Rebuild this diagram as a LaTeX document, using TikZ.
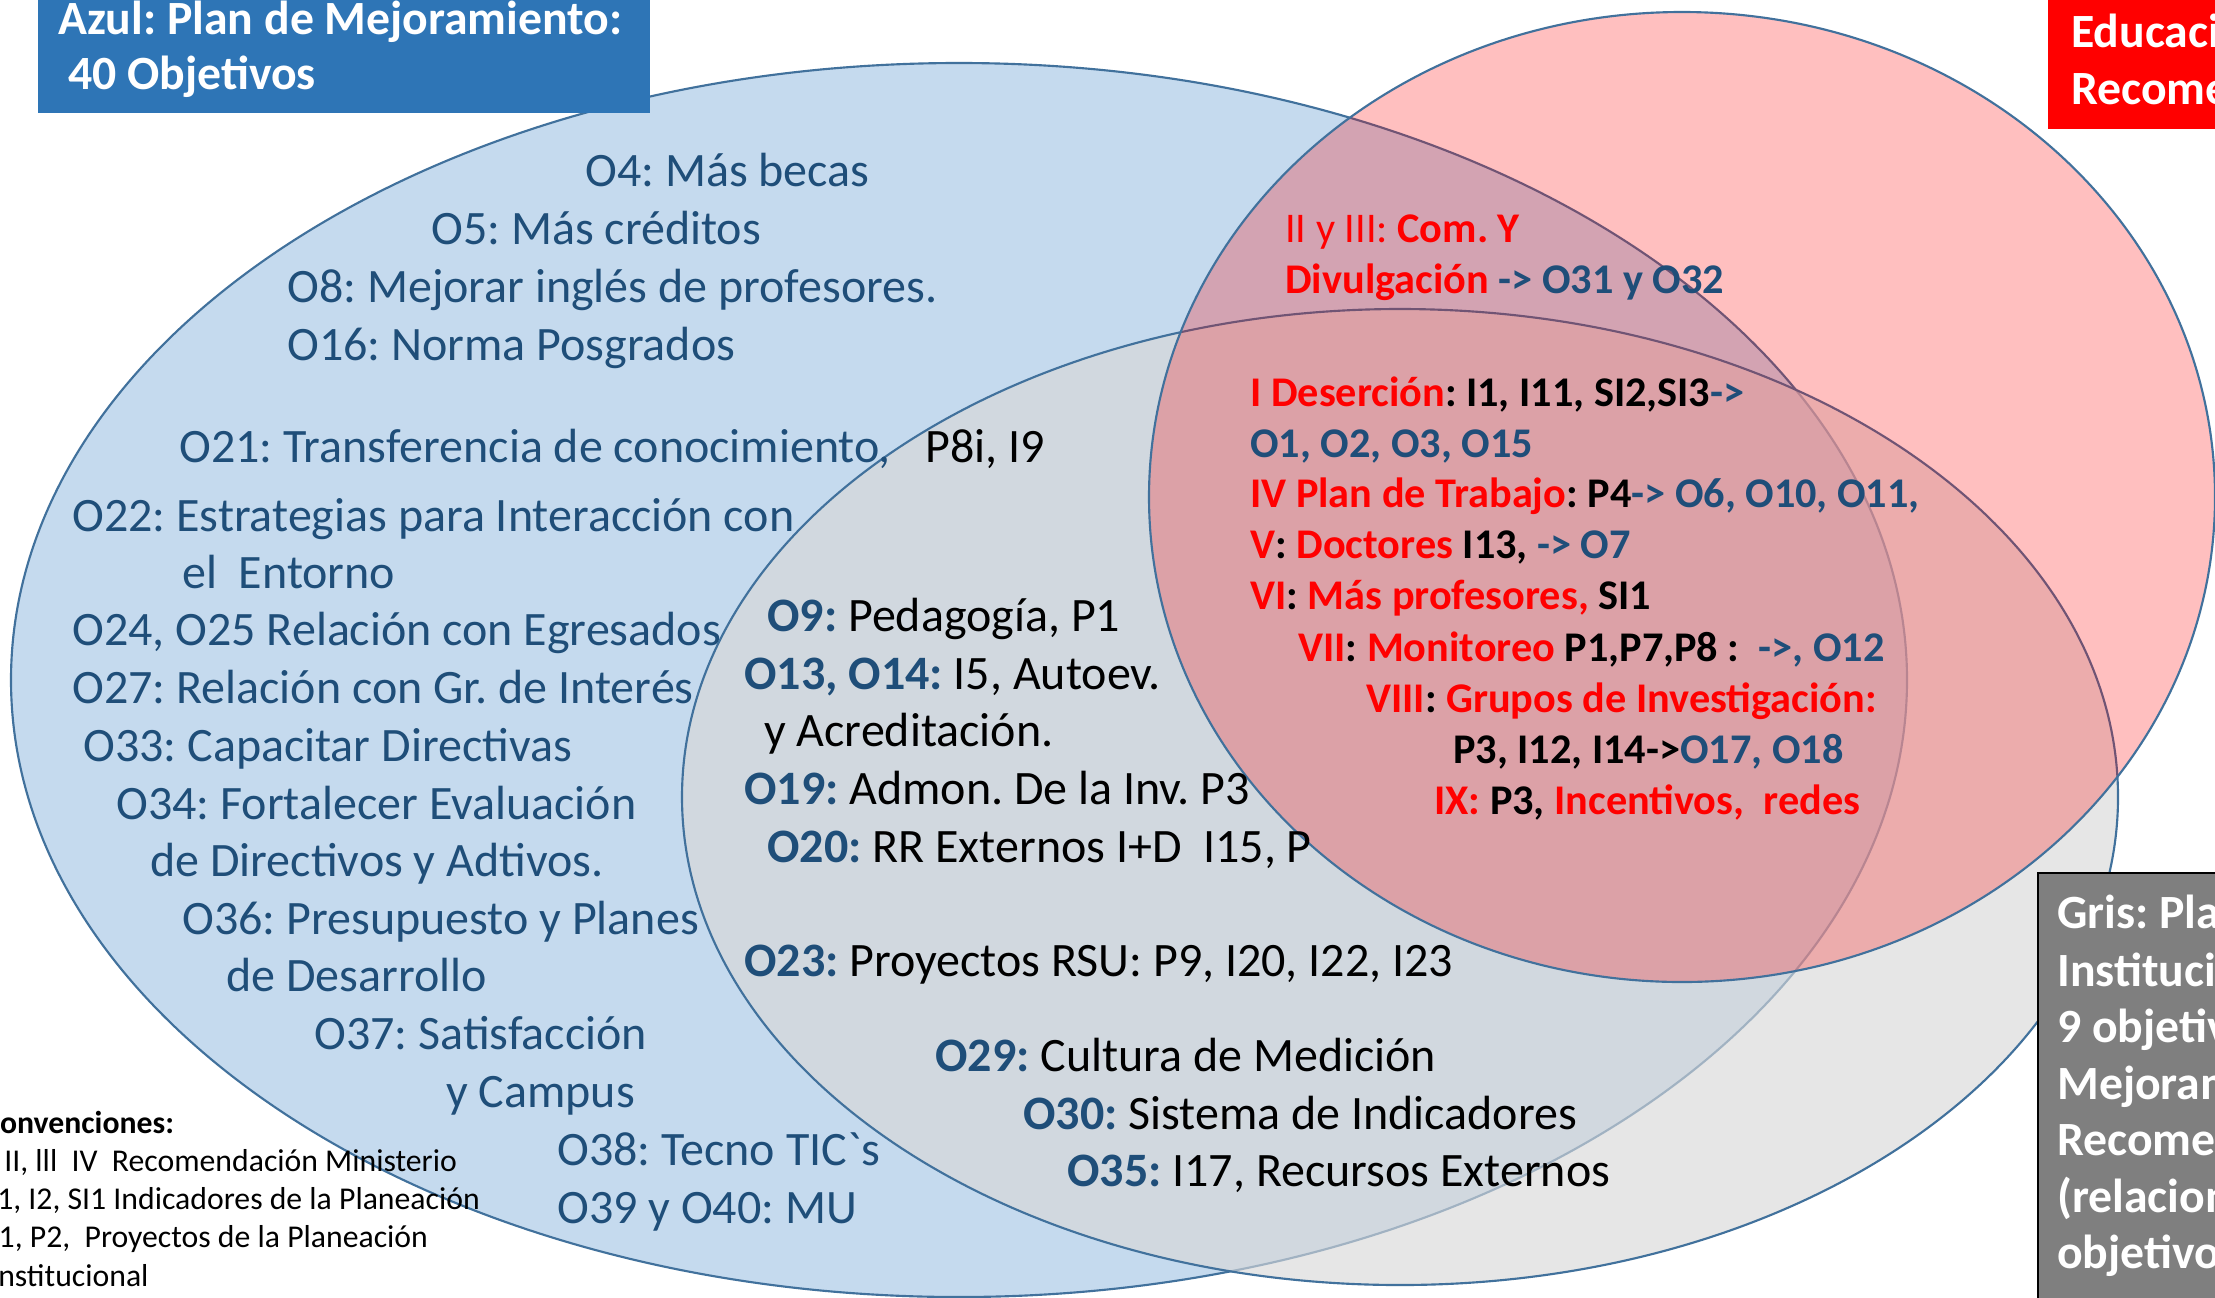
\documentclass[tikz,border=0pt]{standalone}
\usepackage{fontspec}
\setmainfont{Carlito}
\newfontfamily\rawcar{Carlito}[Ligatures=TeXOff]
\definecolor{blueFill}{RGB}{197,218,238}
\definecolor{edgeBlue}{RGB}{65,113,156}
\definecolor{grayFill}{RGB}{216,216,216}
\definecolor{tblue}{RGB}{31,78,121}
\definecolor{boxBlue}{RGB}{46,117,182}
\definecolor{boxRed}{RGB}{255,0,0}
\definecolor{boxGray}{RGB}{127,127,127}
\newcommand{\fsA}{\fontsize{36}{43}\selectfont}
\newcommand{\fsB}{\fontsize{31.7}{38}\selectfont\bfseries}
\newcommand{\fsC}{\fontsize{23.8}{29}\selectfont}
\newcommand{\cR}[1]{\textcolor{red}{#1}}
\newcommand{\cK}[1]{\textcolor{black}{#1}}
\newcommand{\cB}[1]{\textcolor{tblue}{#1}}
\frenchspacing
\tikzset{
  vedge/.style={draw=edgeBlue, line width=1.6pt},
  btxt/.style={anchor=base west, inner sep=0pt, font=\fsA, text=tblue},
  gtxt/.style={anchor=base west, inner sep=0pt, font=\fsA, text=black},
  ptxt/.style={anchor=base west, inner sep=0pt, font=\fsB, text=red},
  ctxt/.style={anchor=base west, inner sep=0pt, font=\fsC, text=black},
  wtxt/.style={anchor=base west, inner sep=0pt, font=\fontsize{35.8}{43}\selectfont\bfseries, text=white}
}
\begin{document}
\frenchspacing
\begin{tikzpicture}[x=0.75pt,y=-0.75pt]
\useasboundingbox (0,0) rectangle (2215,1297);
\clip (0,0) rectangle (2215,1297);
\fill[white] (0,0) rectangle (2215,1297);
% Venn ellipses
\path[vedge, fill=blueFill] (959,680) ellipse [x radius=948, y radius=617];
\path[vedge, fill=grayFill, fill opacity=0.64] (1400,797) ellipse [x radius=718, y radius=488];
\path[vedge, fill=red, fill opacity=0.25] (1682,497) ellipse [x radius=533, y radius=485];
% title boxes
\fill[boxBlue] (38,0) rectangle (650,113);
\node[wtxt] (az1) at (58,34) {Azul: Plan de Mejoramiento:};
\node[wtxt] (az2) at (68,89) {40 Objetivos};
\fill[boxRed] (2048,0) rectangle (2215,129);
\node[wtxt] (ed1) at (2071,47) {Educación};
\node[wtxt] (ed2) at (2071,104) {Recomendaciones};
\path[fill=boxGray, draw=black, line width=1.5pt] (2038,873) rectangle (2240,1320);
\node[wtxt] (gr1) at (2057,928) {Gris: Plan};
\node[wtxt] (gr2) at (2057,986) {Institucional};
\node[wtxt] (gr3) at (2057,1042) {9 objetivos};
\node[wtxt] (gr4) at (2057,1099) {Mejoramiento};
\node[wtxt] (gr5) at (2057,1155) {Recomendaciones};
\node[wtxt] (gr6) at (2057,1212) {(relacionados};
\node[wtxt] (gr7) at (2057,1268) {objetivos};
% blue region texts
\node[btxt] (o4) at (585,186) {O4: Más becas};
\node[btxt] (o5) at (431,244) {O5: Más créditos};
\node[btxt] (o8) at (287,302) {O8: Mejorar inglés de profesores.};
\node[btxt] (o16) at (287,360) {O16: Norma Posgrados};
\node[btxt] (o21) at (179,462) {O21: Transferencia de conocimiento,};
\node[gtxt] (p8i) at (925,462) {P8i, I9};
\node[btxt] (o22) at (72,531) {O22: Estrategias para Interacción con};
\node[btxt] (o22b) at (182,588) {el\ \ Entorno};
\node[btxt] (o24) at (72,645) {O24, O25 Relación con Egresados};
\node[btxt] (o27) at (72,703) {O27: Relación con Gr. de Interés};
\node[btxt] (o33) at (83,761) {O33: Capacitar Directivas};
\node[btxt] (o34) at (116,819) {O34: Fortalecer Evaluación};
\node[btxt] (o34b) at (150,876) {de Directivos y Adtivos.};
\node[btxt] (o36) at (182,934) {O36: Presupuesto y Planes};
\node[btxt] (o36b) at (226,991) {de Desarrollo};
\node[btxt] (o37) at (314,1049) {O37: Satisfacción};
\node[btxt] (o37b) at (446,1107) {y Campus};
\node[btxt] (o38) at (557,1165) {O38: Tecno TIC{\rawcar`}s};
\node[btxt] (o39) at (557,1223) {O39 y O40: MU};
% gray region texts
\node[gtxt] (o9) at (767,631) {\cB{\bfseries O9:} Pedagogía, P1};
\node[gtxt] (o13) at (744,689) {\cB{\bfseries O13, O14:} I5, Autoev.};
\node[gtxt] (o13b) at (764,746) {y Acreditación.};
\node[gtxt] (o19) at (744,804) {\cB{\bfseries O19:} Admon. De la Inv. P3};
\node[gtxt] (o20) at (767,862) {\cB{\bfseries O20:} RR Externos I+D\ \ I15, P};
\node[gtxt] (o23) at (744,976) {\cB{\bfseries O23:} Proyectos RSU: P9, I20, I22, I23};
\node[gtxt] (o29) at (935,1071) {\cB{\bfseries O29:} Cultura de Medición};
\node[gtxt] (o30) at (1023,1129) {\cB{\bfseries O30:} Sistema de Indicadores};
\node[gtxt] (o35) at (1067,1186) {\cB{\bfseries O35:} I17, Recursos Externos};
% pink region texts
\node[ptxt] (r2) at (1285,242) {{\mdseries II y III:} Com. Y};
\node[ptxt] (r2b) at (1285,293) {Divulgación \cB{-> O31 y O32}};
\node[ptxt] (r1) at (1250,406) {I Deserción\cK{: I1, I11, SI2,SI3}\cB{->}};
\node[ptxt] (r1b) at (1250,457) {\cB{O1, O2, O3, O15}};
\node[ptxt] (r4) at (1250,507) {IV Plan de Trabajo\cK{: P4}\cB{-> O6, O10, O11,}};
\node[ptxt] (r5) at (1250,558) {V\cK{:} Doctores \cK{I13,} \cB{-> O7}};
\node[ptxt] (r6) at (1250,609) {VI\cK{:} Más profesores, \cK{SI1}};
\node[ptxt] (r7) at (1298,661) {VII\cK{:} Monitoreo \cK{P1,P7,P8 :}\ \ \cB{->, O12}};
\node[ptxt] (r8) at (1366,712) {VIII\cK{:} Grupos de Investigación:};
\node[ptxt] (r8b) at (1453,763) {\cK{P3, I12, I14->}\cB{O17, O18}};
\node[ptxt] (r9) at (1434,814) {IX: \cK{P3,} Incentivos,\ \ redes};
% convenciones
\node[ctxt, font=\fsC\bfseries] (cv0) at (-17,1133) {Convenciones:};
\node[ctxt] (cv1) at (-19,1171) {I, II, lll\ \ IV\ \ Recomendación Ministerio};
\node[ctxt] (cv2) at (-11,1209) {I1, I2, SI1 Indicadores de la Planeación};
\node[ctxt] (cv3) at (-18,1247) {P1, P2,\ \ Proyectos de la Planeación};
\node[ctxt] (cv4) at (-10,1286) {Institucional};
\end{tikzpicture}
\end{document}
